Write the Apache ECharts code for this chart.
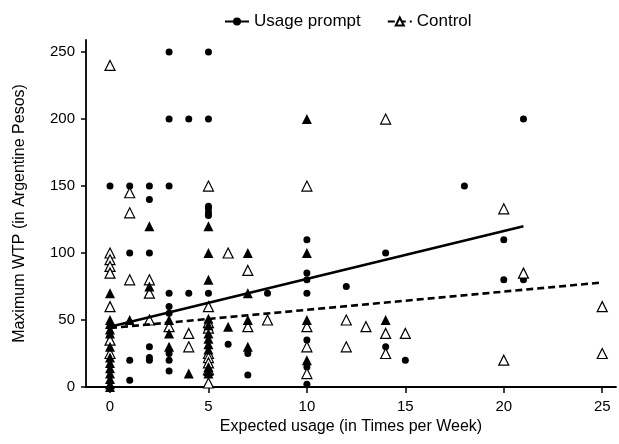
<!DOCTYPE html>
<html>
<head>
<meta charset="utf-8">
<script src="https://cdn.jsdelivr.net/npm/echarts@6/dist/echarts.min.js"></script>
<style>
  html, body { margin: 0; padding: 0; background: #fff; }
  #chart { width: 619px; height: 444px; }
</style>
</head>
<body>
<div id="chart"></div>
<script>
// tick labels
const xTicks = [0, 5, 10, 15, 20, 25];

// filled circles: usage prompt group
const promptPoints = [
  [0, 150],
  [1, 150], [1, 100], [1, 20], [1, 5],
  [2, 150], [2, 140], [2, 100], [2, 30], [2, 22], [2, 20],
  [3, 250], [3, 200], [3, 150], [3, 70], [3, 60], [3, 55], [3, 25], [3, 20], [3, 12],
  [4, 200], [4, 70],
  [5, 250], [5, 200], [5, 135], [5, 133], [5, 130], [5, 128], [5, 70],
  [6, 32],
  [7, 25], [7, 9],
  [8, 70],
  [10, 110], [10, 85], [10, 80], [10, 70], [10, 35], [10, 15], [10, 2],
  [12, 75],
  [14, 100], [14, 30],
  [15, 20],
  [18, 150],
  [20, 110], [20, 80],
  [21, 200], [21, 80]
];

// open triangles: control group
const controlPoints = [
  [0, 240], [0, 100], [0, 95], [0, 90], [0, 85], [0, 60], [0, 35], [0, 25],
  [1, 145], [1, 130], [1, 80],
  [2, 80], [2, 70], [2, 50],
  [3, 45],
  [4, 40], [4, 30],
  [5, 150], [5, 60], [5, 48], [5, 44], [5, 25], [5, 22], [5, 18], [5, 13], [5, 3],
  [6, 100],
  [7, 87], [7, 45],
  [8, 50],
  [10, 150], [10, 45], [10, 30], [10, 10],
  [12, 50], [12, 30],
  [13, 45],
  [14, 200], [14, 40], [14, 25],
  [15, 40],
  [20, 133], [20, 20],
  [21, 85],
  [25, 60], [25, 25]
];

// filled triangles (both groups at the same spot)
const overlapPoints = [
  [0, 70], [0, 50], [0, 47], [0, 43], [0, 40], [0, 30], [0, 22], [0, 18], [0, 14], [0, 10], [0, 6], [0, 2], [0, 0],
  [1, 50],
  [2, 120], [2, 75],
  [3, 50], [3, 40], [3, 30],
  [4, 10],
  [5, 120], [5, 100], [5, 80], [5, 51], [5, 46], [5, 40], [5, 36], [5, 32], [5, 28], [5, 15], [5, 12], [5, 10],
  [6, 45],
  [7, 100], [7, 70], [7, 50], [7, 30],
  [10, 200], [10, 100], [10, 50], [10, 20],
  [14, 50]
];

// fitted lines (end points)
const promptFit = [[0, 45], [21, 120]];
const controlFit = [[0, 44], [25, 78]];

const chart = echarts.init(document.getElementById("chart"));
const font = "Liberation Sans, Arial, sans-serif";

const option = {
  backgroundColor: "#fff",
  textStyle: { fontFamily: font, color: "#000" },
  animation: false,
  legend: {
    data: ["Usage prompt", "Control"],
    top: 8,
    left: 219,
    itemWidth: 24,
    itemHeight: 10,
    itemGap: 26,
    textStyle: { fontSize: 17, color: "#000", fontFamily: font }
  },
  grid: { left: 86, right: 3, top: 40, bottom: 57 },
  xAxis: {
    type: "value",
    min: -1.22,
    max: 25.7,
    name: "Expected usage (in Times per Week)",
    nameLocation: "middle",
    nameGap: 32,
    nameTextStyle: { fontSize: 16, color: "#000" },
    splitLine: { show: false },
    axisLine: { lineStyle: { color: "#000", width: 1.8 } },
    axisTick: { customValues: xTicks, length: 6, lineStyle: { color: "#000", width: 1.5 } },
    axisLabel: { customValues: xTicks, fontSize: 15, color: "#000", margin: 12 }
  },
  yAxis: {
    type: "value",
    min: 0,
    max: 259,
    interval: 50,
    name: "Maximum WTP (in Argentine Pesos)",
    nameLocation: "middle",
    nameGap: 58,
    nameTextStyle: { fontSize: 16, color: "#000" },
    splitLine: { show: false },
    axisLine: { show: true, onZero: false, lineStyle: { color: "#000", width: 1.8 } },
    axisTick: { show: true, length: 5, lineStyle: { color: "#000", width: 1.5 } },
    axisLabel: { fontSize: 15, color: "#000", margin: 11 }
  },
  series: [
    {
      name: "Usage prompt",
      type: "line",
      data: promptFit,
      symbol: "circle",
      symbolSize: 7,
      showSymbol: false,
      itemStyle: { color: "#000" },
      lineStyle: { color: "#000", width: 2.6 },
      z: 3
    },
    {
      name: "Control",
      type: "line",
      data: controlFit,
      symbol: "triangle",
      symbolSize: 9,
      showSymbol: false,
      itemStyle: { color: "#fff", borderColor: "#000", borderWidth: 1.2 },
      lineStyle: { color: "#000", width: 2.6, type: [7, 4] },
      z: 3
    },
    {
      name: "Usage prompt",
      type: "scatter",
      data: promptPoints,
      symbol: "circle",
      symbolSize: 7,
      clip: false,
      itemStyle: { color: "#000", opacity: 1 }
    },
    {
      name: "Control",
      type: "scatter",
      data: controlPoints,
      symbol: "triangle",
      symbolSize: 10,
      clip: false,
      itemStyle: { color: "#fff", borderColor: "#000", borderWidth: 1.2, opacity: 1 }
    },
    {
      name: "Both",
      type: "scatter",
      data: overlapPoints,
      symbol: "triangle",
      symbolSize: 10,
      clip: false,
      itemStyle: { color: "#000", opacity: 1 }
    }
  ]
};

chart.setOption(option);
</script>
</body>
</html>
